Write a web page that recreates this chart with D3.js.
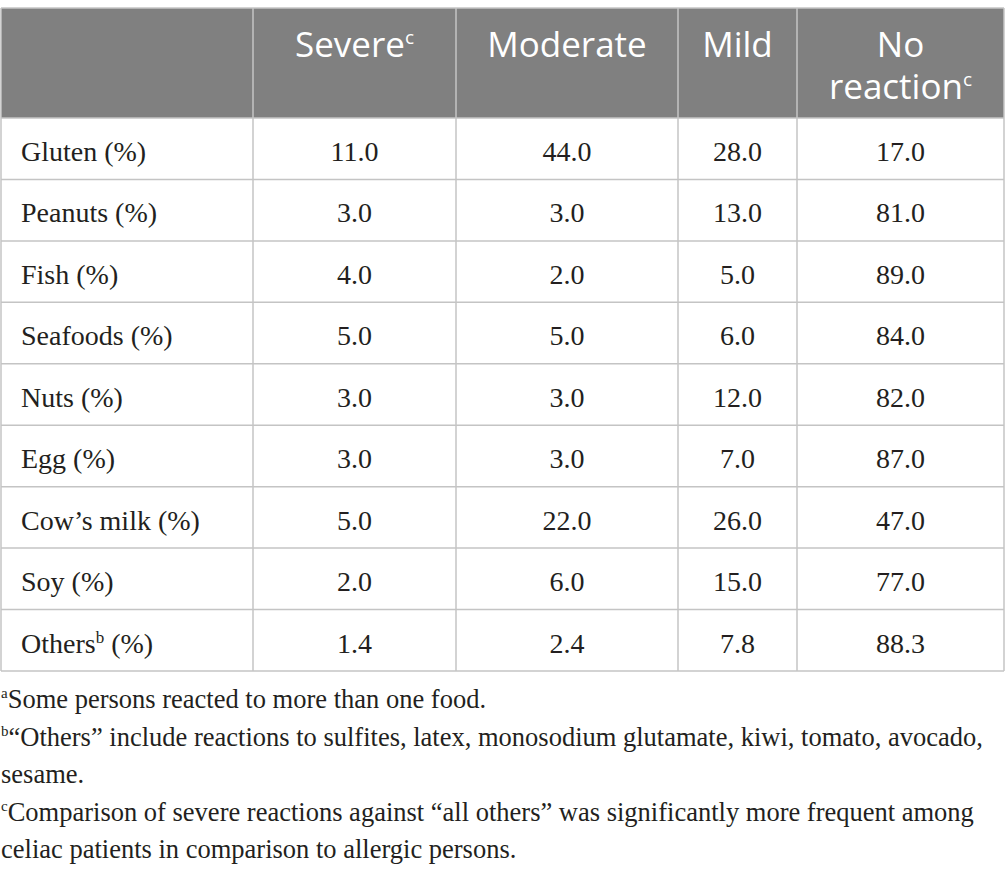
<!DOCTYPE html>
<html lang="en">
<head>
    <meta charset="UTF-8">
    <title>Food reactions table</title>
    <style>
        body { margin: 0; background: #fff; }
        .head { font-family: "Open Sans", sans-serif; font-size: 35px; fill: #fff; }
        .cell { font-family: "Liberation Serif", serif; font-size: 28px; fill: #231f20; }
        .note { font-family: "Liberation Serif", serif; font-size: 26.5px; fill: #231f20; }
        .grid { stroke: #c4c4c4; stroke-width: 1.5; }
    </style>
</head>
<body>
    <svg width="1005" height="877"></svg>
    <script src="https://d3js.org/d3.v7.min.js"></script>
    <script>
        // table data
        var columns = ["Severe", "Moderate", "Mild", "No reaction"];
        var columnSup = ["c", "", "", "c"];
        var foods = ["Gluten", "Peanuts", "Fish", "Seafoods", "Nuts", "Egg", "Cow\u2019s milk", "Soy", "Others"];
        var foodSup = ["", "", "", "", "", "", "", "", "b"];
        var severe = [11.0, 3.0, 4.0, 5.0, 3.0, 3.0, 5.0, 2.0, 1.4];
        var moderate = [44.0, 3.0, 2.0, 5.0, 3.0, 3.0, 22.0, 6.0, 2.4];
        var mild = [28.0, 13.0, 5.0, 6.0, 12.0, 7.0, 26.0, 15.0, 7.8];
        var noReaction = [17.0, 81.0, 89.0, 84.0, 82.0, 87.0, 47.0, 77.0, 88.3];
        var notes = [
            ["a", "Some persons reacted to more than one food."],
            ["b", "\u201cOthers\u201d include reactions to sulfites, latex, monosodium glutamate, kiwi, tomato, avocado,"],
            ["", "sesame."],
            ["c", "Comparison of severe reactions against \u201call others\u201d was significantly more frequent among"],
            ["", "celiac patients in comparison to allergic persons."]
        ];

        var series = [severe, moderate, mild, noReaction];

        var svg = d3.select("svg");
        var left = 1, right = 1004, tableTop = 8, headBottom = 118, bottom = 671;
        var edges = [left, 253, 456, 678, 797, right];

        var y = d3.scaleBand().domain(d3.range(foods.length)).range([headBottom, bottom]);

        // header background
        svg.append("rect")
            .attr("x", left).attr("y", tableTop)
            .attr("width", right - left).attr("height", headBottom - tableTop)
            .attr("fill", "#808080");

        // horizontal lines
        var hLines = [tableTop, headBottom].concat(d3.range(1, foods.length).map(function (i) { return y(i); })).concat([bottom]);
        svg.selectAll(".hline")
            .data(hLines)
            .enter()
            .append("line")
            .attr("class", "grid")
            .attr("x1", left).attr("x2", right)
            .attr("y1", function (d) { return d; })
            .attr("y2", function (d) { return d; });

        // vertical lines
        svg.selectAll(".vline")
            .data(edges)
            .enter()
            .append("line")
            .attr("class", "grid")
            .attr("x1", function (d) { return d; })
            .attr("x2", function (d) { return d; })
            .attr("y1", tableTop).attr("y2", bottom);

        function colCenter(i) { return (edges[i + 1] + edges[i + 2]) / 2; }

        // header labels
        columns.forEach(function (name, i) {
            var words = name === "No reaction" ? ["No", "reaction"] : [name];
            var t = svg.append("text")
                .attr("class", "head")
                .attr("text-anchor", "middle")
                .attr("x", colCenter(i))
                .attr("y", 57);
            words.forEach(function (w, j) {
                var last = j === words.length - 1;
                var line = last ? t : t;
                var ts = t.append("tspan")
                    .attr("x", colCenter(i))
                    .attr("dy", j === 0 ? 0 : 42)
                    .text(w);
                if (last && columnSup[i]) {
                    ts.append("tspan")
                        .attr("dy", -13)
                        .style("font-size", "19px")
                        .text(columnSup[i]);
                }
            });
        });

        // row labels
        foods.forEach(function (f, r) {
            var t = svg.append("text")
                .attr("class", "cell")
                .attr("x", 21)
                .attr("y", y(r) + 43);
            t.append("tspan").text(f);
            if (foodSup[r]) {
                t.append("tspan").attr("dy", -10).style("font-size", "17px").text(foodSup[r]);
                t.append("tspan").attr("dy", 10).text(" (%)");
            } else {
                t.append("tspan").text(" (%)");
            }
        });

        // values
        series.forEach(function (vals, c) {
            svg.selectAll(".v" + c)
                .data(vals)
                .enter()
                .append("text")
                .attr("class", "cell")
                .attr("text-anchor", "middle")
                .attr("x", colCenter(c))
                .attr("y", function (d, r) { return y(r) + 43; })
                .text(function (d) { return d3.format(".1f")(d); });
        });

        // footnotes
        var ny = d3.scalePoint().domain(d3.range(notes.length)).range([708, 858]);
        notes.forEach(function (n, i) {
            var t = svg.append("text")
                .attr("class", "note")
                .attr("x", 1)
                .attr("y", ny(i));
            if (n[0]) {
                t.append("tspan").attr("dy", -10).style("font-size", "15px").text(n[0]);
                t.append("tspan").attr("dy", 10).text(n[1]);
            } else {
                t.append("tspan").text(n[1]);
            }
        });
    </script>
</body>
</html>
